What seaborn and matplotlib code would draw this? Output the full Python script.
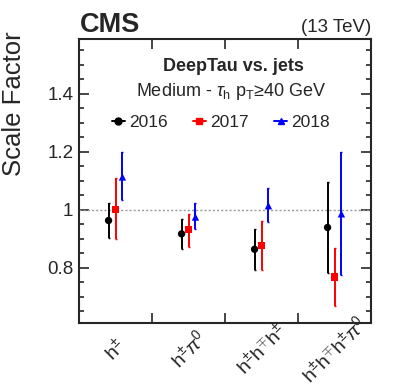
import numpy as np
import pandas as pd
import matplotlib
matplotlib.use("Agg")
import matplotlib.pyplot as plt
from matplotlib.lines import Line2D
import seaborn as sns

# decay modes and per-year scale factors (value, error down, error up)
modes = [r"$\mathrm{h}^{\pm}$", r"$\mathrm{h}^{\pm}\pi^{0}$",
         r"$\mathrm{h}^{\pm}\mathrm{h}^{\mp}\mathrm{h}^{\pm}$",
         r"$\mathrm{h}^{\pm}\mathrm{h}^{\mp}\mathrm{h}^{\pm}\pi^{0}$"]
years = ["2016", "2017", "2018"]

sf_2016 = [0.963, 0.917, 0.864, 0.939]
dn_2016 = [0.061, 0.051, 0.071, 0.157]
up_2016 = [0.060, 0.052, 0.070, 0.156]

sf_2017 = [1.002, 0.931, 0.876, 0.769]
dn_2017 = [0.103, 0.058, 0.083, 0.099]
up_2017 = [0.106, 0.056, 0.084, 0.100]

sf_2018 = [1.113, 0.975, 1.014, 0.986]
dn_2018 = [0.081, 0.042, 0.057, 0.210]
up_2018 = [0.087, 0.048, 0.062, 0.214]

colors = {"2016": "black", "2017": "#ff0000", "2018": "#0000ff"}
markers = {"2016": "o", "2017": "s", "2018": "^"}
offsets = {"2016": -0.095, "2017": 0.0, "2018": 0.095}

rows = []
for yr, sf, dn, up in [("2016", sf_2016, dn_2016, up_2016),
                       ("2017", sf_2017, dn_2017, up_2017),
                       ("2018", sf_2018, dn_2018, up_2018)]:
    for i in range(len(modes)):
        rows.append({"year": yr, "mode": i, "x": i + offsets[yr],
                     "sf": sf[i], "dn": dn[i], "up": up[i]})
df = pd.DataFrame(rows)

sns.set_style("ticks")
plt.rcParams["font.family"] = ["Liberation Sans", "DejaVu Sans"]
plt.rcParams["mathtext.fontset"] = "custom"
plt.rcParams["mathtext.rm"] = "Liberation Sans"
plt.rcParams["mathtext.it"] = "Liberation Sans:italic"
plt.rcParams["mathtext.bf"] = "Liberation Sans:bold"

fig = plt.figure(figsize=(3.99, 3.85), dpi=100)
ax = fig.add_axes([79 / 399, 1 - 323 / 385, 292 / 399, 284.5 / 385])

ax.axhline(1.0, color="#999999", ls=(0, (1.5, 1.5)), lw=1.0, zorder=1)

for yr in years:
    d = df[df["year"] == yr]
    ax.errorbar(d["x"], d["sf"], yerr=[d["dn"], d["up"]], fmt="none",
                ecolor=colors[yr], elinewidth=1.4, capsize=1, capthick=1.0,
                zorder=2)

sns.scatterplot(data=df, x="x", y="sf", hue="year", style="year",
                palette=colors, markers=markers, s=28, edgecolor="none",
                legend=False, ax=ax, zorder=3)

ax.set_xlim(-0.5, 3.5)
ax.set_ylim(0.61, 1.59)
ax.set_xlabel("")
ax.set_ylabel("")
fig.text(14 / 399, 1 - 104 / 385, "Scale Factor", fontsize=18.5,
         rotation=90, ha="center", va="center")

ax.set_yticks([0.8, 1.0, 1.2, 1.4])
ax.set_yticklabels(["0.8", "1", "1.2", "1.4"])
ax.set_yticks(np.arange(0.65, 1.59, 0.05), minor=True)
ax.set_xticks([0.5, 1.5, 2.5])
ax.set_xticklabels([])
ax.set_xticks(range(len(modes)), minor=True)
ax.set_xticklabels(modes, minor=True)

ax.tick_params(axis="both", which="both", direction="in", top=True, right=True,
               width=1.2)
ax.tick_params(axis="y", which="major", length=7, labelsize=13.5, pad=4)
ax.tick_params(axis="y", which="minor", length=3.5)
ax.tick_params(axis="x", which="major", length=7)
ax.tick_params(axis="x", which="minor", length=0, labelsize=14, pad=19)
for lbl in ax.get_xticklabels(minor=True):
    lbl.set_rotation(45)
    lbl.set_ha("center")
    lbl.set_va("center")
    lbl.set_rotation_mode("anchor")

for s in ax.spines.values():
    s.set_linewidth(1.5)

fig.text(80 / 399, 1 - 32 / 385, "CMS", fontsize=19.5, fontweight="bold",
         ha="left", va="baseline")
fig.text(371 / 399, 1 - 32 / 385, "(13 TeV)", fontsize=13.5,
         ha="right", va="baseline")
fig.text(233 / 399, 1 - 71 / 385, "DeepTau vs. jets", fontsize=13,
         fontweight="bold", ha="center", va="baseline")
fig.text(231 / 399, 1 - 96.5 / 385,
         r"Medium - $\tau_{\mathrm{h}}$ $\mathrm{p}_{\mathrm{T}}$≥40 GeV",
         fontsize=13, ha="center", va="baseline")

handles = [Line2D([], [], color=colors[yr], marker=markers[yr], lw=1.4,
                  markersize=5) for yr in years]
ax.legend(handles, years, ncol=3, frameon=False, fontsize=12.5,
          loc="center", bbox_to_anchor=(0.486, 0.706), handlelength=0.75,
          handletextpad=0.25, columnspacing=1.45, borderaxespad=0)

fig.savefig("out.png", dpi=100)
